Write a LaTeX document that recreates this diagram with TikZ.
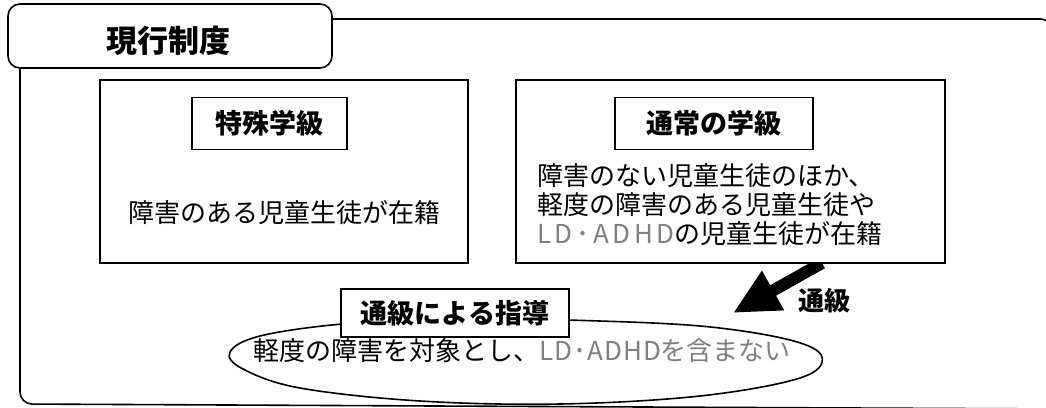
\documentclass[tikz,border=0pt]{standalone}
\usepackage{fontspec}
\setmainfont{Noto Sans CJK JP}
\usetikzlibrary{arrows.meta}
\newcommand{\ldadhd}[1]{{\color{black!50}\addfontfeature{LetterSpace=#1}LD･ADHD}}
\begin{document}
\begin{tikzpicture}[x=1pt,y=-1pt,
  frame/.style={line width=1.6pt},
  classbox/.style={draw,line width=1.4pt,minimum width=#1,minimum height=183pt,inner sep=0pt},
  labelbox/.style={draw,line width=1.4pt,fill=white,minimum width=#1,minimum height=52pt,inner sep=0pt,font=\bfseries\fontsize{27}{30}\selectfont},
  body/.style={font=\fontsize{26}{29}\selectfont,inner sep=0pt}]
\useasboundingbox (0,0) rectangle (1046,407);
% outer frame
\draw[frame,rounded corners=14pt] (332,19) -- (1054,19) -- (1054,420);
\draw[frame,rounded corners=12pt] (20,60) -- (20,404) -- (1060,409);
\node[draw,frame,fill=white,rounded corners=12pt,minimum width=324pt,minimum height=64pt,inner sep=0pt] (tab) at (170,36) {};
\node[font=\bfseries\fontsize{31}{34}\selectfont,inner sep=0pt] (title) at (168,41) {現行制度};
% class boxes
\node[classbox=368pt] (lbox) at (284,171.5) {};
\node[classbox=429pt] (rbox) at (730.5,171.5) {};
\node[labelbox=155pt] (llab) at (269.5,123.5) {特殊学級};
\node[labelbox=198pt] (rlab) at (714,123.5) {通常の学級};
\node[body] (ltext) at (284,213) {障害のある児童生徒が在籍};
\node[body,align=left,anchor=north west] (rtext) at (537,163)
  {障害のない児童生徒のほか、\\軽度の障害のある児童生徒や\\\ldadhd{14}の児童生徒が在籍};
% ellipse
\draw[frame] plot[smooth cycle,tension=0.6] coordinates {
  (230,352) (260,336) (342,324) (456,318) (568,320) (700,326) (790,340) (822,357)
  (800,378) (700,396) (560,404) (420,401) (300,388) (243,369)};
\node[labelbox=228pt,minimum height=48pt] (elab) at (455,313) {通級による指導};
\node[body,anchor=west] (etext) at (253,351) {軽度の障害を対象とし、\ldadhd{4}{\color{black!50}を含まない}};
% arrow
\coordinate (arrS) at (822,263);
\coordinate (arrE) at (733,313);
\begin{scope}
  \clip (0,262.6) rectangle (1046,407);
  \draw[line width=12pt,-{Triangle[length=46pt,width=42pt]}] (arrS) -- (arrE);
\end{scope}
\node[font=\bfseries\fontsize{26}{29}\selectfont,inner sep=0pt] (tsukyu) at (824,301) {通級};
\end{tikzpicture}
\end{document}
